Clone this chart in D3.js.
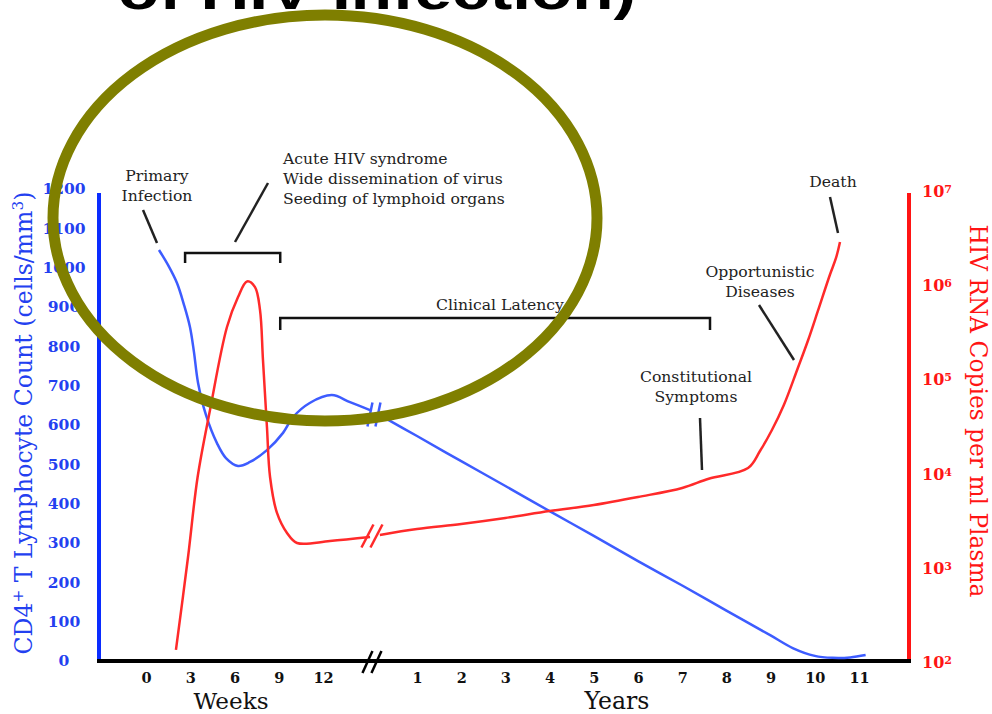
<!DOCTYPE html>
<html><head><meta charset="utf-8">
<script src="https://cdn.jsdelivr.net/npm/d3@7"></script>
<style>html,body{margin:0;padding:0;background:#fff;overflow:hidden}</style>
</head><body>
<svg id="c" width="992" height="714"></svg>
<script>
// ---------- data ----------
const weekTicks = [0, 3, 6, 9, 12];
const yearTicks = [1, 2, 3, 4, 5, 6, 7, 8, 9, 10, 11];
const cd4Ticks = [0, 100, 200, 300, 400, 500, 600, 700, 800, 900, 1000, 1100, 1200];
const rnaExponents = [2, 3, 4, 5, 6, 7];

// CD4 count (cells/mm3): [week, value] and [year, value]
const cd4Weeks = [[0.88,1045],[1.49,1007],[2.1,961],[2.58,905],[2.98,849],[3.25,786],[3.53,707],[4.07,625],
  [4.81,554],[5.42,516],[6.24,496],[7.05,506],[8.2,536],[9.29,580],[9.97,620],[11.1,656],[12.6,676],
  [13.83,658],[15.19,638]];
const cd4Years = [[0.16,625],[1,572],[2,508],[3,445],[4,381],[5,318],[6,254],[7,192],[8,128],[9,65],
  [9.5,33],[10,13],[10.4,8],[10.8,9],[11.15,15]];
// HIV RNA copies/ml: [week, value] and [year, value]
const rnaWeeks = [[2.03,131],[2.85,1270],[3.5,8980],[4.34,46200],[5.49,351000],[6.24,730000],[6.85,1070000],
  [7.39,930000],[7.73,530000],[7.93,157000],[8.2,30500],[8.41,8980],[8.88,3730],[9.56,2285],[10.24,1790],
  [12.47,1880],[15.19,2070]];
const rnaYears = [[0.16,2180],[1,2520],[2,2850],[3,3300],[4,3910],[5,4530],[6,5510],[7,6870],[7.6,8600],
  [8.49,11190],[8.76,16950],[9.03,28330],[9.3,52200],[9.6,122800],[9.85,255700],[10.07,519700],
  [10.34,1253000],[10.48,1900000],[10.57,2810000]];

// ---------- layout ----------
const svg = d3.select('#c');
const BLUE_AX = '#0a2cff', BLUE_TX = '#2340f0', BLUE_LN = '#3d5cff';
const RED = '#ff1414', RED_LN = '#ff2a2a', INK = '#222';
const SERIF = "'DejaVu Serif', Georgia, serif";

const yL = d3.scaleLinear().domain([0, 1200]).range([661, 189]);
const yR = d3.scaleLog().domain([1e2, 1e7]).range([661, 190]);
const xW = d3.scaleLinear().domain([0, 12]).range([146, 323]);
const xY = d3.scaleLinear().domain([1, 11]).range([417, 859]);

function fit(sel, target) {
  const w = sel.node().getComputedTextLength();
  const fs = parseFloat(sel.attr('font-size'));
  sel.attr('font-size', fs * target / w);
  return fs * target / w;
}

// title fragment (cut off at top)
svg.append('text').attr('x', 118).attr('y', 9)
  .attr('font-family', "'Liberation Sans', Arial, sans-serif").attr('font-size', 52).attr('font-weight', 'bold')
  .attr('textLength', 518).attr('lengthAdjust', 'spacingAndGlyphs')
  .attr('fill', '#000').text('of HIV Infection)');

// ---------- axes ----------
const gL = svg.append('g').attr('transform', 'translate(99,0)')
  .call(d3.axisLeft(yL).tickValues(cd4Ticks).tickSize(0).tickFormat(d3.format('d')));
gL.select('.domain').remove();
gL.selectAll('text').attr('x', -35).attr('text-anchor', 'middle')
  .attr('font-family', SERIF).attr('font-weight', 'bold').attr('font-size', 15.5).attr('fill', BLUE_TX);
svg.append('line').attr('x1', 99).attr('x2', 99).attr('y1', 193).attr('y2', 661)
  .attr('stroke', BLUE_AX).attr('stroke-width', 4);

const gR = svg.append('g').attr('transform', 'translate(909,0)')
  .call(d3.axisRight(yR).tickValues(rnaExponents.map(e => Math.pow(10, e))).tickSize(0).tickFormat(''));
gR.select('.domain').remove();
gR.selectAll('.tick text').each(function(d) {
  const t = d3.select(this).text(null).attr('x', 13).attr('dy', '0.4em')
    .attr('font-family', SERIF).attr('font-weight', 'bold').attr('font-size', 16).attr('fill', RED)
    .attr('text-anchor', 'start');
  t.append('tspan').text('10');
  t.append('tspan').attr('font-size', 11).attr('baseline-shift', '40%').text(Math.round(Math.log10(d)));
});
svg.append('line').attr('x1', 909).attr('x2', 909).attr('y1', 193).attr('y2', 661)
  .attr('stroke', RED).attr('stroke-width', 4);

const gW = svg.append('g').attr('transform', 'translate(0,661)')
  .call(d3.axisBottom(xW).tickValues(weekTicks).tickSize(0).tickFormat(d3.format('d')));
const gY = svg.append('g').attr('transform', 'translate(0,661)')
  .call(d3.axisBottom(xY).tickValues(yearTicks).tickSize(0).tickFormat(d3.format('d')));
[gW, gY].forEach(g => {
  g.select('.domain').remove();
  g.selectAll('text').attr('y', 12).attr('dy', '0.71em')
    .attr('font-family', SERIF).attr('font-weight', 'bold').attr('font-size', 14.5).attr('fill', '#111');
});
svg.append('line').attr('x1', 97).attr('x2', 911).attr('y1', 661).attr('y2', 661)
  .attr('stroke', '#000').attr('stroke-width', 4);

const wk = svg.append('text').attr('x', 231).attr('y', 709).attr('text-anchor', 'middle')
  .attr('font-family', SERIF).attr('font-size', 22).attr('fill', '#111').text('Weeks');
fit(wk, 75);
const yr = svg.append('text').attr('x', 617).attr('y', 709).attr('text-anchor', 'middle')
  .attr('font-family', SERIF).attr('font-size', 22).attr('fill', '#111').text('Years');
fit(yr, 65);

// axis titles
const lt = svg.append('text').attr('transform', 'translate(32,423) rotate(-90)')
  .attr('text-anchor', 'middle').attr('font-family', SERIF).attr('font-size', 22).attr('fill', BLUE_TX);
lt.append('tspan').text('CD4');
lt.append('tspan').attr('baseline-shift', 'super').attr('font-size', '65%').text('+');
lt.append('tspan').text(' T Lymphocyte Count (cells/mm');
lt.append('tspan').attr('baseline-shift', 'super').attr('font-size', '65%').text('3');
lt.append('tspan').text(')');
fit(lt, 463);

const rt = svg.append('text').attr('transform', 'translate(970,411) rotate(90)')
  .attr('text-anchor', 'middle').attr('font-family', SERIF).attr('font-size', 22).attr('fill', RED)
  .text('HIV RNA Copies per ml Plasma');
fit(rt, 373);

// ---------- curves ----------
const curve = d3.curveCatmullRom.alpha(0.5);
const lineW = (ys) => d3.line().x(d => xW(d[0])).y(d => ys(d[1])).curve(curve);
const lineY = (ys) => d3.line().x(d => xY(d[0])).y(d => ys(d[1])).curve(curve);

svg.append('path').attr('d', lineW(yL)(cd4Weeks)).attr('fill', 'none').attr('stroke', BLUE_LN).attr('stroke-width', 2.5);
svg.append('path').attr('d', lineY(yL)(cd4Years)).attr('fill', 'none').attr('stroke', BLUE_LN).attr('stroke-width', 2.5);
svg.append('path').attr('d', lineW(yR)(rnaWeeks)).attr('fill', 'none').attr('stroke', RED_LN).attr('stroke-width', 2.5);
svg.append('path').attr('d', lineY(yR)(rnaYears)).attr('fill', 'none').attr('stroke', RED_LN).attr('stroke-width', 2.5);

function breakMark(cx, cy, dx, dy, color, gap) {
  [-gap / 2, gap / 2].forEach(o => {
    svg.append('line').attr('x1', cx + o - dx / 2).attr('y1', cy + dy / 2)
      .attr('x2', cx + o + dx / 2).attr('y2', cy - dy / 2)
      .attr('stroke', color).attr('stroke-width', 2.5);
  });
}
const bx = (xW(cd4Weeks[cd4Weeks.length - 1][0]) + xY(cd4Years[0][0])) / 2;
breakMark(bx - 1, (yL(cd4Weeks[cd4Weeks.length - 1][1]) + yL(cd4Years[0][1])) / 2 + 2, 5, 24, BLUE_LN, 8);
breakMark(bx - 3, (yR(rnaWeeks[rnaWeeks.length - 1][1]) + yR(rnaYears[0][1])) / 2, 12, 23, RED_LN, 9);
breakMark(bx - 3, 662, 10, 22, '#000', 9);

// ---------- annotations ----------
const notes = [
  {lines: ['Primary', 'Infection'], x: 157, y: 181, anchor: 'middle'},
  {lines: ['Acute HIV syndrome', 'Wide dissemination of virus', 'Seeding of lymphoid organs'], x: 283, y: 164, anchor: 'start'},
  {lines: ['Clinical Latency'], x: 500, y: 310, anchor: 'middle'},
  {lines: ['Constitutional', 'Symptoms'], x: 696, y: 382, anchor: 'middle'},
  {lines: ['Opportunistic', 'Diseases'], x: 760, y: 277, anchor: 'middle'},
  {lines: ['Death'], x: 833, y: 187, anchor: 'middle'}
];
const probe = svg.append('text').attr('font-family', SERIF).attr('font-size', 14).text('Wide dissemination of virus');
const nfs = fit(probe, 220);
probe.remove();
notes.forEach(n => {
  n.lines.forEach((l, i) => {
    svg.append('text').attr('x', n.x).attr('y', n.y + i * 20).attr('text-anchor', n.anchor)
      .attr('font-family', SERIF).attr('font-size', nfs).attr('fill', INK).text(l);
  });
});
const leaders = [[143,210,157,243],[268,183,235,242],[700,418,702,470],[759,305,794,360],[830,197,838,233]];
leaders.forEach(l => svg.append('line').attr('x1', l[0]).attr('y1', l[1]).attr('x2', l[2]).attr('y2', l[3])
  .attr('stroke', INK).attr('stroke-width', 2.5));

function bracket(x1, x2, y, h) {
  svg.append('path').attr('d', `M${x1},${y + h}V${y}H${x2}V${y + h}`)
    .attr('fill', 'none').attr('stroke', '#111').attr('stroke-width', 2.5);
}
bracket(xW(2.65), xW(9.1), 253, 10);
bracket(xW(9.1), 710, 318, 12);

// ---------- highlight ellipse ----------
svg.append('ellipse').attr('cx', 325).attr('cy', 218).attr('rx', 272).attr('ry', 203)
  .attr('fill', 'none').attr('stroke', '#7f7f00').attr('stroke-width', 11);
</script>
</body></html>
